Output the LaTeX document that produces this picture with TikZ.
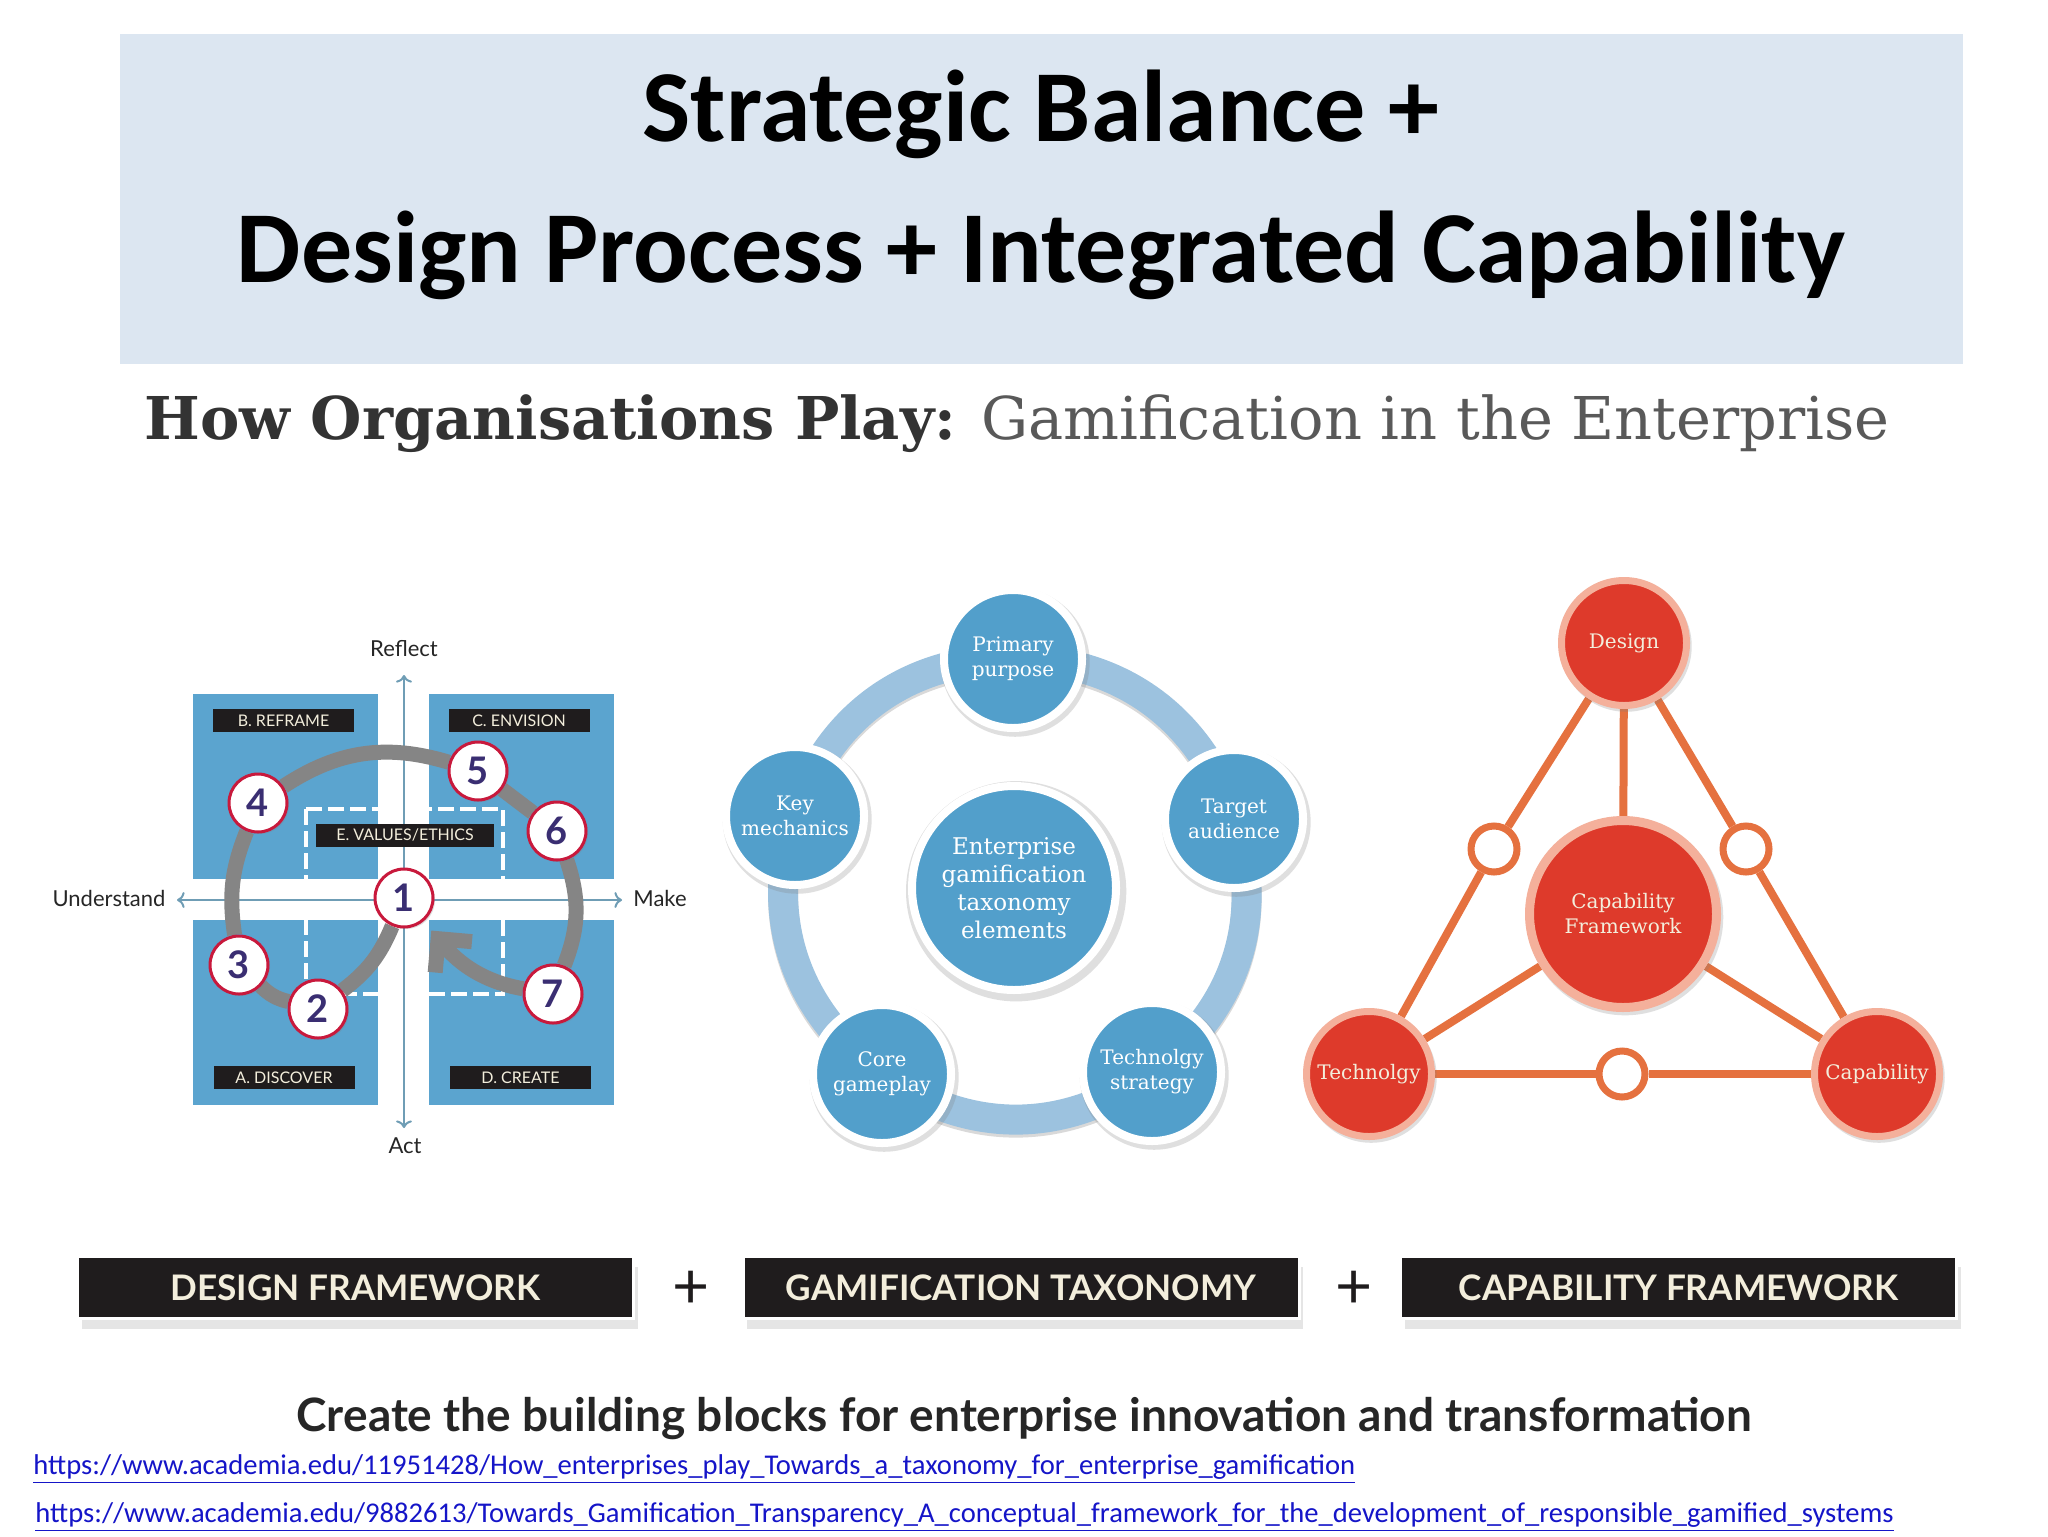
\documentclass[tikz,border=0pt]{standalone}
\usepackage{fontspec}
\setmainfont{Carlito}
\newfontfamily\slabfont{DejaVu Serif}
\newfontfamily\latofont{Lato}
\usetikzlibrary{arrows.meta,shadows}
\definecolor{bandblue}{HTML}{DCE6F1}
\definecolor{quadblue}{HTML}{5BA4CF}
\definecolor{dotblue}{HTML}{529FCB}
\definecolor{ringblue}{HTML}{9CC2DF}
\definecolor{axisblue}{HTML}{6F9DB5}
\definecolor{loopgrey}{HTML}{858585}
\definecolor{inkblack}{HTML}{1F1C1D}
\definecolor{crimson}{HTML}{C8193C}
\definecolor{digitink}{HTML}{3A2E72}
\definecolor{cream}{HTML}{F3EEDC}
\definecolor{capred}{HTML}{DE3A2B}
\definecolor{salmon}{HTML}{F4B09B}
\definecolor{wireorange}{HTML}{E5713F}
\definecolor{linkblue}{HTML}{1515C8}
\pgfdeclarelayer{under}
\pgfsetlayers{under,main}
\tikzset{
    quad/.style={fill=quadblue,minimum width=92.5pt,minimum height=92.5pt,inner sep=0},
    tag/.style={fill=inkblack,text=cream,minimum width=70.5pt,minimum height=11.5pt,inner sep=0,font=\fontsize{8}{8}\selectfont\latofont},
    axislabel/.style={text=black!85,inner sep=0,font=\fontsize{11}{11}\selectfont\latofont},
    numdot/.style={circle,fill=white,draw=crimson,line width=1.5pt,minimum size=29pt,inner sep=0,text=digitink,
        font=\fontsize{19}{19}\selectfont\latofont\bfseries,drop shadow={shadow xshift=1pt,shadow yshift=-1pt,opacity=.25}},
    loopline/.style={draw=loopgrey,line width=7.5pt},
    bluedot/.style={circle,fill=dotblue,draw=white,line width=4pt,minimum size=69pt,inner sep=0,align=center,text=white,
        font=\fontsize{10}{12.5}\selectfont\slabfont,drop shadow={shadow scale=1.08,shadow xshift=1pt,shadow yshift=-1.5pt,opacity=.25}},
    ringarc/.style={draw=ringblue,line width=15pt,preaction={draw=black!15,line width=15pt,transform canvas={yshift=-1.5pt}}},
    reddot/.style={circle,fill=capred,draw=salmon,line width=3.5pt,minimum size=62.5pt,inner sep=0,align=center,text=cream,
        font=\fontsize{10}{12.5}\selectfont\slabfont,drop shadow={shadow scale=1.05,shadow xshift=1pt,shadow yshift=-1.5pt,opacity=.25}},
    holedot/.style={circle,fill=white,draw=wireorange,line width=3.5pt,minimum size=23pt,inner sep=0},
    wire/.style={draw=wireorange,line width=4pt},
    blackbar/.style={fill=inkblack,draw=white,line width=1.5pt,text=cream,minimum width=278pt,minimum height=31pt,inner sep=0,
        font=\fontsize{17.6}{17.6}\selectfont\latofont\bfseries,drop shadow={shadow xshift=2pt,shadow yshift=-5pt,opacity=.2}},
    plus/.style={text=inkblack,inner sep=0,font=\fontsize{32}{32}\selectfont\latofont},
    weblink/.style={anchor=west,inner sep=0,text=linkblue,font=\fontsize{14.3}{14.3}\selectfont}
}
\begin{document}
\begin{tikzpicture}[x=0.5pt,y=-0.5pt]
    \useasboundingbox (0,0) rectangle (2048,1536);
    \begin{pgfonlayer}{under}
        \fill[white] (0,0) rectangle (2048,1536);
    \end{pgfonlayer}
    \node[fill=bandblue,minimum width=921.5pt,minimum height=165pt,inner sep=0] (band) at (1041.5,199) {};
    \node[align=center,inner sep=0,font=\fontsize{51}{70.5}\selectfont\bfseries] (title) at (1041,185)
        {Strategic Balance +\\Design Process + Integrated Capability};
    \node[inner sep=0,font=\fontsize{29.5}{29.5}\selectfont\slabfont] (subtitle) at (1017,424)
        {{\bfseries\color{black!80}How Organisations Play:} {\color{black!65}Gamification in the Enterprise}};

    % design framework
    \foreach \i/\x/\y in {1/404/898,2/318/1009,3/239/965,4/258/803,5/478/771,6/557/831,7/553/994}
        \node[numdot] (n\i) at (\x,\y) {\i};
    \node[tag] (reframe) at (283.5,720.5) {B. REFRAME};
    \node[tag] (envision) at (519,720.5) {C. ENVISION};
    \node[tag] (discover) at (284,1077.5) {A. DISCOVER};
    \node[tag] (create) at (520.5,1077.5) {D. CREATE};
    \node[tag,minimum width=89pt] (values) at (405,835) {E. VALUES/ETHICS};
    \node[axislabel] (reflect) at (404,649) {Reflect};
    \node[axislabel] (act) at (405,1146) {Act};
    \node[axislabel] (understand) at (109,898) {Understand};
    \node[axislabel] (make) at (660,898) {Make};
    \coordinate (axtop) at (404,675);
    \coordinate (axbot) at (404,1128);
    \coordinate (axleft) at (177,900);
    \coordinate (axright) at (622,900);
    \begin{pgfonlayer}{under}
        \node[quad] (qb) at (285.5,786.5) {};
        \node[quad] (qc) at (521.5,786.5) {};
        \node[quad] (qa) at (285.5,1012) {};
        \node[quad] (qd) at (521.5,1012) {};
        \draw[white,line width=2pt,dash pattern=on 8pt off 3pt] (306,809) rectangle (503,994);
        \draw[axisblue,line width=1pt,<->] (axtop) -- (axbot);
        \draw[axisblue,line width=1pt,<->] (axleft) -- (axright);
        \draw[loopline] (n1) to[bend left=15] (n2);
        \draw[loopline] (n2) to[bend left=15] (n3);
        \draw[loopline] (n3) to[bend left=15] (n4);
        \draw[loopline] (n4) to[bend left=25] (n5);
        \draw[loopline] (n5) -- (n6);
        \draw[loopline] (n6) to[bend left=20] (n7);
        \draw[loopline,shorten >=6pt,-{Straight Barb[length=12pt,width=24pt]}] (n7) to[out=170,in=-50] (n1);
    \end{pgfonlayer}

    % taxonomy
    \node[bluedot] (primary) at (1013,659) {Primary\\purpose};
    \node[bluedot] (target) at (1234,819) {Target\\audience};
    \node[bluedot] (tech) at (1152,1072) {Technolgy\\strategy};
    \node[bluedot] (core) at (882,1074) {Core\\gameplay};
    \node[bluedot] (key) at (795,816) {Key\\mechanics};
    \node[bluedot,minimum size=102pt,font=\fontsize{11.5}{14}\selectfont\slabfont] (taxcentre) at (1014,888)
        {Enterprise\\gamification\\taxonomy\\elements};
    \begin{pgfonlayer}{under}
        \draw[ringarc] (primary.center) to[bend left=36] (target.center);
        \draw[ringarc] (target.center) to[bend left=36] (tech.center);
        \draw[ringarc] (tech.center) to[bend left=36] (core.center);
        \draw[ringarc] (core.center) to[bend left=36] (key.center);
        \draw[ringarc] (key.center) to[bend left=36] (primary.center);
    \end{pgfonlayer}

    % capability
    \node[reddot] (design) at (1624,643) {Design};
    \node[reddot] (technolgy) at (1369,1074) {Technolgy};
    \node[reddot] (capability) at (1877,1074) {Capability};
    \node[reddot,minimum size=93.5pt,line width=4.5pt] (capcentre) at (1623,914) {Capability\\Framework};
    \node[holedot] (holeleft) at (1494,849) {};
    \node[holedot] (holeright) at (1746,849) {};
    \node[holedot] (holebot) at (1622,1074) {};
    \begin{pgfonlayer}{under}
        \draw[wire] (design) -- (capcentre);
        \draw[wire] (capcentre) -- (technolgy);
        \draw[wire] (capcentre) -- (capability);
        \draw[wire] (design) -- (holeleft);
        \draw[wire] (holeleft) -- (technolgy);
        \draw[wire] (design) -- (holeright);
        \draw[wire] (holeright) -- (capability);
        \draw[wire] (technolgy) -- (holebot);
        \draw[wire] (holebot) -- (capability);
    \end{pgfonlayer}

    % bottom row
    \node[blackbar] (designbar) at (355.5,1287.5) {DESIGN FRAMEWORK};
    \node[blackbar] (gamebar) at (1021,1287.5) {GAMIFICATION TAXONOMY};
    \node[blackbar] (capbar) at (1678.5,1287.5) {CAPABILITY FRAMEWORK};
    \node[plus] (plusa) at (691,1290) {+};
    \node[plus] (plusb) at (1354,1290) {+};
    \node[inner sep=0,text=black!85,font=\fontsize{23}{23}\selectfont\latofont\bfseries] (strap) at (1024,1419)
        {Create the building blocks for enterprise innovation and transformation};
    \node[weblink] (linka) at (33,1469)
        {\underline{https://www.academia.edu/11951428/How\_enterprises\_play\_Towards\_a\_taxonomy\_for\_enterprise\_gamification}};
    \node[weblink] (linkb) at (35,1517)
        {\underline{https://www.academia.edu/9882613/Towards\_Gamification\_Transparency\_A\_conceptual\_framework\_for\_the\_development\_of\_responsible\_gamified\_systems}};
\end{tikzpicture}
\end{document}
